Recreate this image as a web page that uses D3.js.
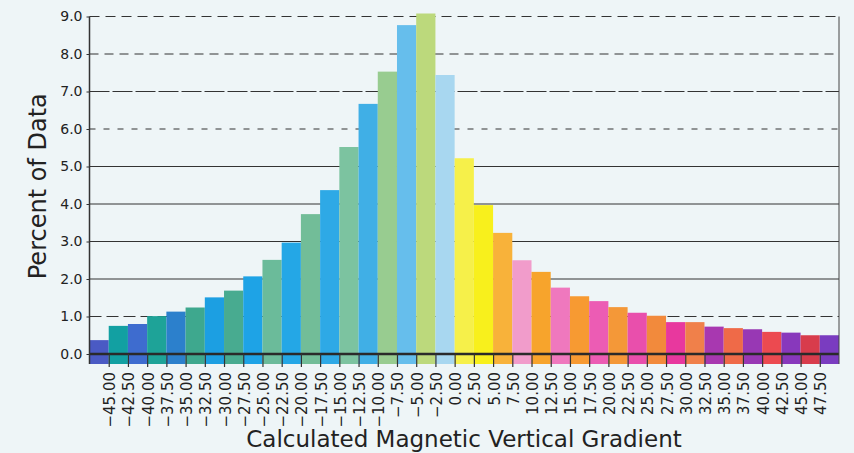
<!DOCTYPE html>
<html>
<head>
<meta charset="utf-8">
<script src="https://cdn.jsdelivr.net/npm/d3@7"></script>
<style>
  body { margin: 0; background: #eef5f7; }
  text { font-family: "DejaVu Sans", sans-serif; fill: #222; }
</style>
</head>
<body>
<div class="plot"></div>
<script>
// Bin upper edges (tick labels) and bar values
const tickValues = d3.range(-45, 47.5 + 0.01, 2.5);
const binStart = [-47.5, -45, -42.5, -40, -37.5, -35, -32.5, -30, -27.5, -25, -22.5, -20, -17.5,
  -15, -12.5, -10, -7.5, -5, -2.5, 0, 2.5, 5, 7.5, 10, 12.5, 15, 17.5, 20, 22.5, 25, 27.5, 30,
  32.5, 35, 37.5, 40, 42.5, 45, 47.5];
const percent = [0.37, 0.75, 0.80, 1.01, 1.13, 1.24, 1.51, 1.69, 2.07, 2.51, 2.97, 3.73, 4.37,
  5.52, 6.67, 7.53, 8.77, 9.08, 7.44, 5.22, 3.97, 3.23, 2.50, 2.19, 1.77, 1.54, 1.41, 1.25,
  1.10, 1.02, 0.85, 0.85, 0.73, 0.69, 0.66, 0.59, 0.57, 0.50, 0.50];
const barColors = ["#4a5ac4", "#12a0a2", "#3e6ccf", "#1ea398", "#2c80cc", "#3ea88e", "#1c9fe2",
  "#48ab90", "#1ea3e6", "#6bbb9a", "#24a7e6", "#72bd98", "#2ea9e6", "#7cc3a0", "#40afe6",
  "#98cc90", "#66beec", "#bcd97c", "#a8d7f0", "#f6f04a", "#f8f01c", "#f8b23a", "#f19ccb",
  "#f7a42c", "#ef78be", "#f79a32", "#ec5cb4", "#f49838", "#e94fac", "#f28a3c", "#e8389e",
  "#f0804a", "#a838b0", "#ef6a48", "#9838b4", "#ec4a50", "#8838bc", "#d83c4c", "#7a3cc0"];
const yTicks = [0, 1, 2, 3, 4, 5, 6, 7, 8, 9];
const gridDash = {1: "12,5", 6: "6,8", 7: "20,3", 8: "9,6", 9: "10,6"};

const W = 854, H = 453;
const svg = d3.select(".plot").append("svg")
    .attr("width", W)
    .attr("height", H);

const x = d3.scaleLinear().domain([-47.5, 50]).range([89.5, 839]);
const y = d3.scaleLinear().domain([0, 9]).range([354, 16.5]);
const barBottom = y(0) + 10;

// grid lines
svg.append("g").selectAll("line")
    .data(yTicks.filter(d => d > 0))
    .join("line")
        .attr("x1", x.range()[0])
        .attr("x2", x.range()[1])
        .attr("y1", d => y(d))
        .attr("y2", d => y(d))
        .attr("stroke", "#333")
        .attr("stroke-width", 1)
        .attr("stroke-dasharray", d => gridDash[d] || null);

// bars
const bars = binStart.map((b, i) => ({start: b, value: percent[i], color: barColors[i]}));
svg.append("g").selectAll("rect")
    .data(bars)
    .join("rect")
        .attr("x", d => x(d.start))
        .attr("y", d => y(d.value))
        .attr("width", d => x(d.start + 2.5) - x(d.start))
        .attr("height", d => barBottom - y(d.value))
        .attr("fill", d => d.color);

// zero line
svg.append("line")
    .attr("x1", x.range()[0]).attr("x2", x.range()[1])
    .attr("y1", y(0)).attr("y2", y(0))
    .attr("stroke", "#2a2a2a")
    .attr("stroke-width", 2.5);

// x axis ticks and labels
const xAxis = d3.axisBottom(x)
    .tickValues(tickValues)
    .tickSize(13)
    .tickFormat(d => d3.format(".2f")(d).replace("-", "\u2212"));
const gx = svg.append("g")
    .attr("transform", `translate(0,${y(0)})`)
    .call(xAxis);
gx.select(".domain").remove();
gx.selectAll(".tick line").attr("stroke", "#333").attr("stroke-width", 1.2);
gx.selectAll(".tick text")
    .attr("transform", "rotate(-90)")
    .attr("x", -18)
    .attr("y", 6)
    .attr("dy", 0)
    .style("text-anchor", "end")
    .style("font-size", "15px")
    .style("fill", "#222");

// y axis
const yAxis = d3.axisLeft(y)
    .tickValues(yTicks)
    .tickSize(3)
    .tickPadding(4)
    .tickFormat(d3.format(".1f"));
const gy = svg.append("g")
    .attr("transform", `translate(${x.range()[0]},0)`)
    .call(yAxis);
gy.select(".domain").remove();
gy.append("line")
    .attr("y1", y(9)).attr("y2", barBottom)
    .attr("stroke", "#333").attr("stroke-width", 1.5);
gy.selectAll(".tick line").attr("stroke", "#333");
gy.selectAll(".tick text")
    .style("font-size", "14px")
    .style("fill", "#222");

// right border
svg.append("line")
    .attr("x1", x.range()[1]).attr("x2", x.range()[1])
    .attr("y1", y(9)).attr("y2", barBottom)
    .attr("stroke", "#444").attr("stroke-width", 1);

// titles
svg.append("text")
    .attr("transform", `translate(46,${(y(0) + y(9)) / 2 + 1}) rotate(-90)`)
    .attr("text-anchor", "middle")
    .style("font-size", "24px")
    .text("Percent of Data");
svg.append("text")
    .attr("x", 464)
    .attr("y", 447)
    .attr("text-anchor", "middle")
    .style("font-size", "23px")
    .text("Calculated Magnetic Vertical Gradient");
</script>
</body>
</html>
